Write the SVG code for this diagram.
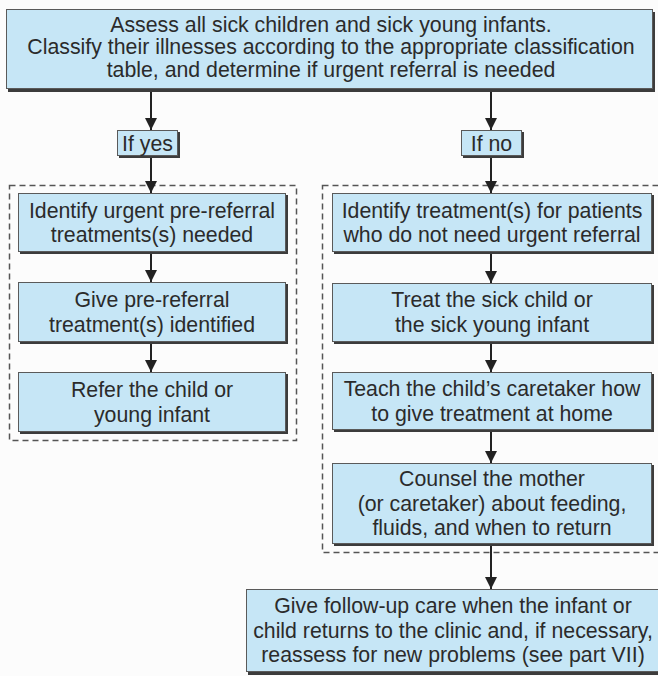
<svg xmlns="http://www.w3.org/2000/svg" width="658" height="676" viewBox="0 0 658 676">
<defs>
<style>
.bg{fill:#fcfcfc}
.sh{fill:#3c3c3c}
.box{fill:#c6e6f6;stroke:#5a5a5a;stroke-width:1}
.dash{fill:none;stroke:#555;stroke-width:1.5;stroke-dasharray:6 4}
.t{font-family:"Liberation Sans",Arial,sans-serif;font-size:21.3px;fill:#2b2b2b;text-anchor:middle}
.c{stroke:#222;stroke-width:2;fill:none;marker-end:url(#ah)}
</style>
<marker id="ah" viewBox="0 0 10 10" refX="10" refY="5" markerWidth="6" markerHeight="6" markerUnits="strokeWidth" orient="auto">
<path d="M0,0 L10,5 L0,10 Z" fill="#222"/>
</marker>
</defs>
<rect class="bg" x="0" y="0" width="658" height="676"/>
<g id="containers">
<rect class="dash" x="9.5" y="185.5" width="287" height="255"/>
<rect class="dash" x="322.5" y="185.5" width="340" height="367"/>
</g>
<g id="connectors">
<line class="c" x1="151" y1="92" x2="151" y2="130"/>
<line class="c" x1="491" y1="92" x2="491" y2="130"/>
<line class="c" x1="151" y1="158" x2="151" y2="193"/>
<line class="c" x1="491" y1="158" x2="491" y2="193"/>
<line class="c" x1="151" y1="254" x2="151" y2="282"/>
<line class="c" x1="151" y1="344" x2="151" y2="372"/>
<line class="c" x1="491" y1="254" x2="491" y2="283"/>
<line class="c" x1="491" y1="344" x2="491" y2="372"/>
<line class="c" x1="491" y1="432" x2="491" y2="463"/>
<line class="c" x1="491" y1="546" x2="491" y2="589"/>
</g>
<g id="assess">
<rect class="sh" x="8" y="12" width="647" height="80"/>
<rect class="box" x="6.5" y="9.5" width="646" height="79"/>
<text class="t" x="331" y="31.5">Assess all sick children and sick young infants.</text>
<text class="t" x="331" y="54">Classify their illnesses according to the appropriate classification</text>
<text class="t" x="331" y="76.5">table, and determine if urgent referral is needed</text>
</g>
<g id="ifyes">
<rect class="sh" x="119" y="132" width="61" height="26"/>
<rect class="box" x="117.5" y="130.5" width="60" height="25"/>
<text class="t" x="147.5" y="150.5">If yes</text>
</g>
<g id="ifno">
<rect class="sh" x="463" y="132" width="61" height="26"/>
<rect class="box" x="461.5" y="130.5" width="60" height="25"/>
<text class="t" x="491.5" y="150.5">If no</text>
</g>
<g id="left1">
<rect class="sh" x="20" y="195" width="268" height="59"/>
<rect class="box" x="18.5" y="193.5" width="267" height="58"/>
<text class="t" x="152" y="217.5">Identify urgent pre-referral</text>
<text class="t" x="152" y="242">treatments(s) needed</text>
</g>
<g id="left2">
<rect class="sh" x="20" y="284" width="268" height="60"/>
<rect class="box" x="18.5" y="282.5" width="267" height="59"/>
<text class="t" x="152" y="307">Give pre-referral</text>
<text class="t" x="152" y="331.5">treatment(s) identified</text>
</g>
<g id="left3">
<rect class="sh" x="20" y="374" width="268" height="60"/>
<rect class="box" x="18.5" y="372.5" width="267" height="59"/>
<text class="t" x="152" y="397">Refer the child or</text>
<text class="t" x="152" y="421.5">young infant</text>
</g>
<g id="right1">
<rect class="sh" x="334" y="195" width="320" height="59"/>
<rect class="box" x="332.5" y="193.5" width="319" height="58"/>
<text class="t" x="492" y="217.5">Identify treatment(s) for patients</text>
<text class="t" x="492" y="242">who do not need urgent referral</text>
</g>
<g id="right2">
<rect class="sh" x="334" y="285" width="320" height="59"/>
<rect class="box" x="332.5" y="283.5" width="319" height="58"/>
<text class="t" x="492" y="307">Treat the sick child or</text>
<text class="t" x="492" y="331.5">the sick young infant</text>
</g>
<g id="right3">
<rect class="sh" x="334" y="374" width="320" height="58"/>
<rect class="box" x="332.5" y="372.5" width="319" height="57"/>
<text class="t" x="492" y="396">Teach the child’s caretaker how</text>
<text class="t" x="492" y="420.5">to give treatment at home</text>
</g>
<g id="right4">
<rect class="sh" x="334" y="465" width="320" height="81"/>
<rect class="box" x="332.5" y="463.5" width="319" height="80"/>
<text class="t" x="492" y="486">Counsel the mother</text>
<text class="t" x="492" y="510.5">(or caretaker) about feeding,</text>
<text class="t" x="492" y="535">fluids, and when to return</text>
</g>
<g id="followup">
<rect class="sh" x="248" y="591" width="412" height="84"/>
<rect class="box" x="246.5" y="589.5" width="412" height="82"/>
<text class="t" x="453" y="613">Give follow-up care when the infant or</text>
<text class="t" x="453" y="637.5">child returns to the clinic and, if necessary,</text>
<text class="t" x="453" y="662">reassess for new problems (see part VII)</text>
</g>
</svg>
